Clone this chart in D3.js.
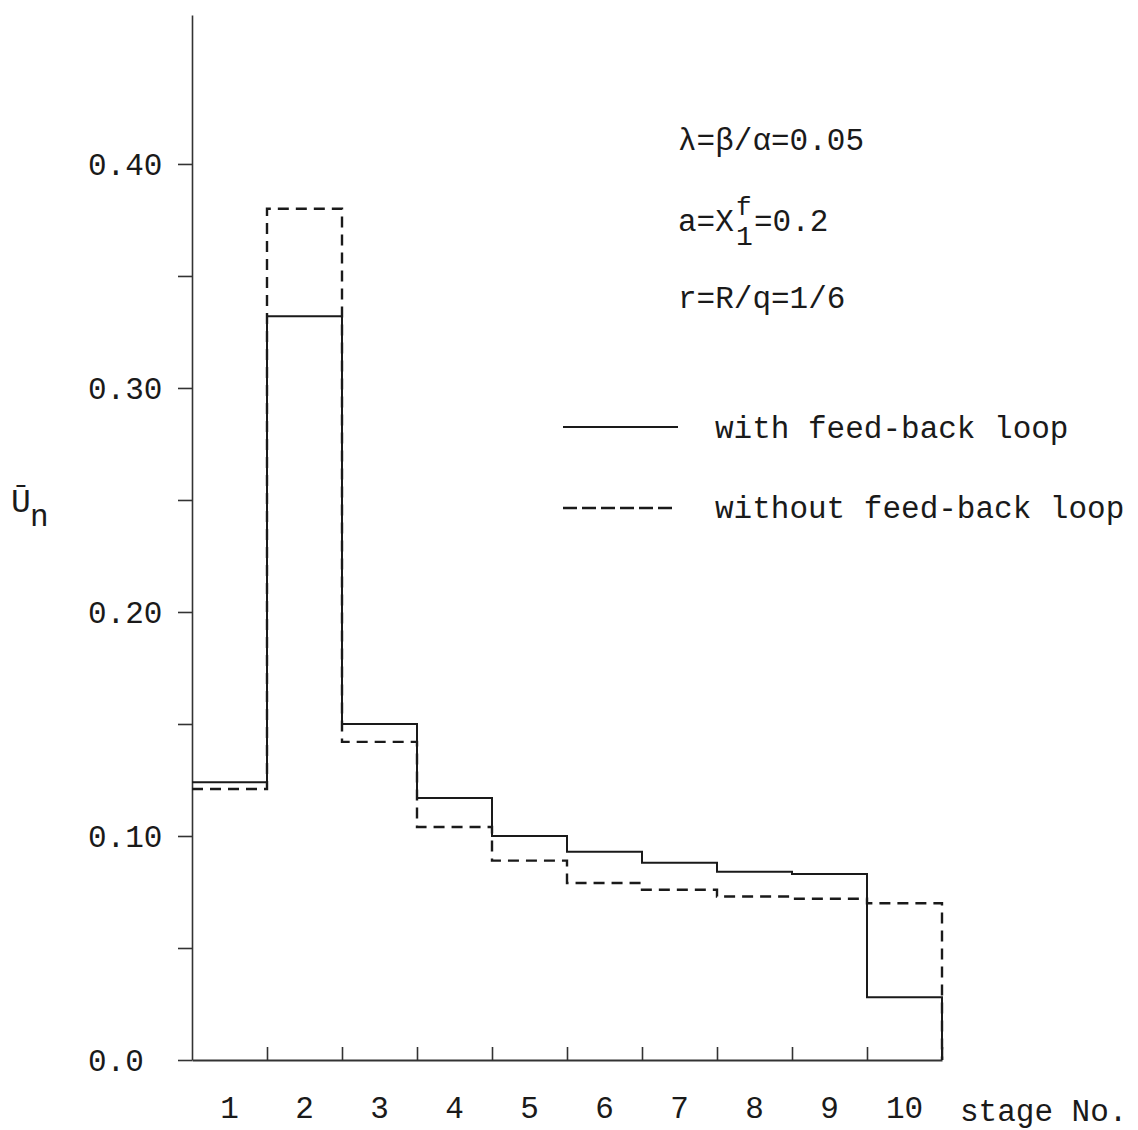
<!DOCTYPE html>
<html>
<head>
<meta charset="utf-8">
<script src="https://cdn.jsdelivr.net/npm/d3@7"></script>
<style>
  html, body { margin: 0; padding: 0; background: #fff; }
  svg { display: block; }
  text { font-family: "Liberation Mono", "DejaVu Sans Mono", monospace; fill: #1a1a1a; }
</style>
</head>
<body>
<svg id="chart" width="1138" height="1130"></svg>
<script>
// ---- data ----
const stages = ["1", "2", "3", "4", "5", "6", "7", "8", "9", "10"];
const withLoop = [0.124, 0.332, 0.150, 0.117, 0.100, 0.093, 0.088, 0.084, 0.083, 0.028];
const withoutLoop = [0.121, 0.380, 0.142, 0.104, 0.089, 0.079, 0.076, 0.073, 0.072, 0.070];
const yTickValues = [0, 0.05, 0.10, 0.15, 0.20, 0.25, 0.30, 0.35, 0.40];
const yTickLabels = {"0": "0.0", "0.1": "0.10", "0.2": "0.20", "0.3": "0.30", "0.4": "0.40"};
const yMax = 0.4665;
const legendLabels = ["with feed-back loop", "without feed-back loop"];
const params = ["λ=β/α=0.05", "r=R/q=1/6"];

// ---- layout ----
const svg = d3.select("#chart");
const mLeft = 192, mRight = 942, mTop = 15, mBottom = 1060;
const ink = "#1a1a1a";
const fs = 31;

const x = d3.scaleBand().domain(stages).range([mLeft, mRight]).paddingInner(0).paddingOuter(0);
const xLin = d3.scaleLinear().domain([0, stages.length]).range([mLeft, mRight]);
const y = d3.scaleLinear().domain([0, yMax]).range([mBottom, mTop]);

// y axis
const yAxis = d3.axisLeft(y)
  .tickValues(yTickValues)
  .tickSize(14)
  .tickSizeOuter(0)
  .tickFormat(d => yTickLabels[String(+d.toFixed(2))] || "");
const gy = svg.append("g").attr("transform", `translate(${mLeft},0)`).call(yAxis);
gy.select(".domain").attr("stroke", "#333").attr("stroke-width", 1.6);
gy.selectAll(".tick line").attr("stroke", "#333").attr("stroke-width", 1.6);
gy.selectAll(".tick text")
  .attr("x", -104)
  .attr("dy", "0.35em")
  .attr("text-anchor", "start")
  .style("font-size", fs + "px")
  .attr("fill", ink);

// x axis (boundary ticks pointing up)
const xAxis = d3.axisBottom(xLin)
  .tickValues(d3.range(1, stages.length + 1))
  .tickSize(-13)
  .tickSizeOuter(0)
  .tickFormat("");
const gx = svg.append("g").attr("transform", `translate(0,${mBottom})`).call(xAxis);
gx.select(".domain").attr("stroke", "#333").attr("stroke-width", 1.8);
gx.selectAll(".tick line").attr("stroke", "#333").attr("stroke-width", 1.6);

// x labels at stage centres
const xLab = d3.axisBottom(x).tickSize(0).tickPadding(0);
const gxl = svg.append("g").attr("transform", `translate(0,${mBottom})`).call(xLab);
gxl.select(".domain").remove();
gxl.selectAll(".tick text")
  .attr("y", 58)
  .attr("dy", 0)
  .style("font-size", fs + "px")
  .attr("fill", ink);

svg.append("text").attr("x", 960).attr("y", 1121)
  .style("font-size", fs + "px").text("stage No.");

// y title
svg.append("text").attr("x", 11).attr("y", 512).style("font-size", "33px").text("Ū");
svg.append("text").attr("x", 30).attr("y", 526).style("font-size", fs + "px").text("n");

// step lines
function stepPoints(vals) {
  const pts = vals.map((v, i) => [x(stages[i]), y(v)]);
  pts.push([mRight, y(vals[vals.length - 1])]);
  pts.push([mRight, y(0)]);
  return pts;
}
const line = d3.line().curve(d3.curveStepAfter);

svg.append("path")
  .attr("d", line(stepPoints(withoutLoop)))
  .attr("fill", "none").attr("stroke", ink)
  .attr("stroke-width", 2.4).attr("stroke-dasharray", "11,7");

svg.append("path")
  .attr("d", line(stepPoints(withLoop)))
  .attr("fill", "none").attr("stroke", ink)
  .attr("stroke-width", 2);

// parameter annotations
svg.append("text").attr("x", 678).attr("y", 150).style("font-size", fs + "px").text(params[0]);
svg.append("text").attr("x", 678).attr("y", 231).style("font-size", fs + "px").text("a=X");
svg.append("text").attr("x", 736).attr("y", 215).style("font-size", "26px").text("f");
svg.append("text").attr("x", 736).attr("y", 245).style("font-size", "28px").text("1");
svg.append("text").attr("x", 754).attr("y", 231).style("font-size", fs + "px").text("=0.2");
svg.append("text").attr("x", 678).attr("y", 308).style("font-size", fs + "px").text(params[1]);

// legend
svg.append("line").attr("x1", 563).attr("x2", 678).attr("y1", 427).attr("y2", 427)
  .attr("stroke", ink).attr("stroke-width", 2);
svg.append("line").attr("x1", 563).attr("x2", 673).attr("y1", 508).attr("y2", 508)
  .attr("stroke", ink).attr("stroke-width", 2.4).attr("stroke-dasharray", "14,5");
svg.append("text").attr("x", 715).attr("y", 438).style("font-size", fs + "px").text(legendLabels[0]);
svg.append("text").attr("x", 715).attr("y", 518).style("font-size", fs + "px").text(legendLabels[1]);
</script>
</body>
</html>
